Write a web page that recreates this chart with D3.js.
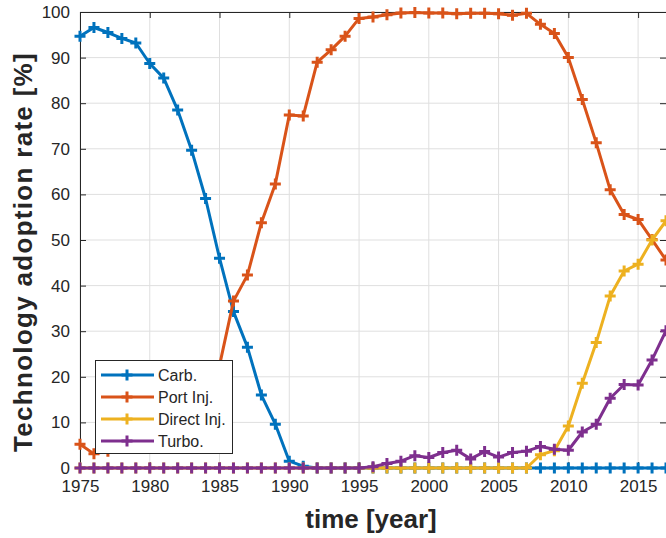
<!DOCTYPE html>
<html>
<head>
<meta charset="utf-8">
<script src="https://cdn.jsdelivr.net/npm/d3@7"></script>
<style>
  body { margin: 0; background: #fff; }
  svg { display: block; font-family: "Liberation Sans", Arial, Helvetica, sans-serif; }
</style>
</head>
<body>
<svg width="666" height="538"></svg>
<script>
const years = [1975, 1976, 1977, 1978, 1979, 1980, 1981, 1982, 1983, 1984,
    1985, 1986, 1987, 1988, 1989, 1990, 1991, 1992, 1993, 1994,
    1995, 1996, 1997, 1998, 1999, 2000, 2001, 2002, 2003, 2004,
    2005, 2006, 2007, 2008, 2009, 2010, 2011, 2012, 2013, 2014,
    2015, 2016, 2017];

const carb = [94.7, 96.6, 95.5, 94.2, 93.2, 88.7, 85.5, 78.5, 69.7, 59.1,
    46.0, 34.3, 26.5, 16.0, 9.6, 1.5, 0.4, 0, 0, 0,
    0, 0, 0, 0, 0, 0, 0, 0, 0, 0,
    0, 0, 0, 0, 0, 0, 0, 0, 0, 0,
    0, 0, 0];

const portInj = [5.2, 3.1, 3.7, 4.5, 5.5, 8.0, 10.5, 14.0, 17.5, 20.5,
    22.5, 36.6, 42.3, 53.8, 62.3, 77.4, 77.2, 89.0, 91.7, 94.7,
    98.6, 98.9, 99.4, 99.8, 99.9, 99.8, 99.8, 99.6, 99.7, 99.7,
    99.6, 99.3, 99.7, 97.3, 95.3, 90.0, 80.8, 71.3, 61.0, 55.6,
    54.5, 50.1, 45.6];

const directInj = [0, 0, 0, 0, 0, 0, 0, 0, 0, 0,
    0, 0, 0, 0, 0, 0, 0, 0, 0, 0,
    0, 0, 0, 0, 0, 0, 0, 0, 0, 0,
    0, 0, 0, 2.9, 3.8, 9.2, 18.6, 27.5, 37.7, 43.2,
    44.7, 50.0, 54.2];

const turbo = [0, 0, 0, 0, 0, 0, 0, 0, 0, 0,
    0, 0, 0, 0, 0, 0, 0, 0, 0, 0,
    0, 0.3, 1.0, 1.5, 2.7, 2.3, 3.4, 3.9, 2.0, 3.6,
    2.4, 3.4, 3.7, 4.7, 4.1, 3.9, 7.9, 9.6, 15.3, 18.3,
    18.2, 23.7, 30.1];

const seriesNames = ['Carb.', 'Port Inj.', 'Direct Inj.', 'Turbo.'];
const seriesColors = ['#0072BD', '#D95319', '#EDB120', '#7E2F8E'];
const xTicks = [1975, 1980, 1985, 1990, 1995, 2000, 2005, 2010, 2015];
const yTicks = [0, 10, 20, 30, 40, 50, 60, 70, 80, 90, 100];

const series = [carb, portInj, directInj, turbo].map((vals, i) => ({
    name: seriesNames[i],
    color: seriesColors[i],
    values: years.map((yr, j) => ({ year: yr, v: vals[j] }))
}));

const margens = { left: 80, right: 0, top: 12, bottom: 70 };
const svg = d3.select('svg');
const width = 666 - margens.left - margens.right;
const height = 538 - margens.top - margens.bottom;
const ink = '#262626';

const x = d3.scaleLinear().domain([1975, 2017]).range([0, width]);
const y = d3.scaleLinear().domain([0, 100]).range([height, 0]);

const g = svg.append('g').attr('transform', `translate(${margens.left},${margens.top})`);

// grade
g.append('g').selectAll('line').data(xTicks).join('line')
    .attr('x1', d => x(d)).attr('x2', d => x(d))
    .attr('y1', 0).attr('y2', height)
    .attr('stroke', '#dfdfdf').attr('stroke-width', 1);
g.append('g').selectAll('line').data(yTicks).join('line')
    .attr('x1', 0).attr('x2', width)
    .attr('y1', d => y(d)).attr('y2', d => y(d))
    .attr('stroke', '#dfdfdf').attr('stroke-width', 1);

// eixos (caixa com ticks para dentro)
const styleAxis = sel => {
    sel.select('.domain').attr('stroke', ink);
    sel.selectAll('.tick line').attr('stroke', ink);
    sel.selectAll('.tick text').attr('fill', ink).attr('font-size', 17);
};

g.append('g').attr('transform', `translate(0,${height})`)
    .call(d3.axisBottom(x).tickValues(xTicks).tickFormat(d3.format('d')).tickSizeInner(-6).tickSizeOuter(0).tickPadding(12))
    .call(styleAxis);
g.append('g')
    .call(d3.axisTop(x).tickValues(xTicks).tickFormat('').tickSizeInner(-6).tickSizeOuter(0))
    .call(styleAxis);
g.append('g')
    .call(d3.axisLeft(y).tickValues(yTicks).tickSizeInner(-6).tickSizeOuter(0).tickPadding(10))
    .call(styleAxis);
g.append('g').attr('transform', `translate(${width},0)`)
    .call(d3.axisRight(y).tickValues(yTicks).tickFormat('').tickSizeInner(-6).tickSizeOuter(0))
    .call(styleAxis);

// linhas + marcadores
const line = d3.line().x(d => x(d.year)).y(d => y(d.v));
const plus = 'M-5.5,0H5.5M0,-5.5V5.5';

series.forEach(s => {
    const sg = g.append('g');
    sg.append('path').datum(s.values)
        .attr('d', line)
        .attr('fill', 'none')
        .attr('stroke', s.color)
        .attr('stroke-width', 3)
        .attr('stroke-linejoin', 'round');
    sg.selectAll('path.mk').data(s.values).join('path')
        .attr('class', 'mk')
        .attr('d', plus)
        .attr('transform', d => `translate(${x(d.year)},${y(d.v)})`)
        .attr('stroke', s.color)
        .attr('stroke-width', 3)
        .attr('fill', 'none');
});

// rótulos
svg.append('text')
    .attr('x', 371).attr('y', 528)
    .attr('text-anchor', 'middle')
    .attr('font-size', 26).attr('font-weight', 'bold').attr('fill', ink)
    .text('time [year]');

svg.append('text')
    .attr('transform', `translate(32,252) rotate(-90)`)
    .attr('text-anchor', 'middle')
    .attr('font-size', 26).attr('font-weight', 'bold').attr('fill', ink)
    .attr('letter-spacing', 1.3)
    .text('Technology adoption rate [%]');

// legenda
const leg = svg.append('g').attr('transform', 'translate(95,360)');
leg.append('rect')
    .attr('x', 0.5).attr('y', 0.5).attr('width', 137).attr('height', 93)
    .attr('fill', '#fff').attr('stroke', ink).attr('stroke-width', 1);

const rows = leg.selectAll('g.row').data(series).join('g')
    .attr('class', 'row')
    .attr('transform', (d, i) => `translate(0,${15 + i * 22})`);
rows.append('line')
    .attr('x1', 6).attr('x2', 59).attr('y1', 0).attr('y2', 0)
    .attr('stroke', d => d.color).attr('stroke-width', 3);
rows.append('path')
    .attr('d', plus).attr('transform', 'translate(32,0)')
    .attr('stroke', d => d.color).attr('stroke-width', 3).attr('fill', 'none');
rows.append('text')
    .attr('x', 63).attr('y', 0).attr('dy', '0.36em')
    .attr('font-size', 16).attr('fill', ink)
    .text(d => d.name);
</script>
</body>
</html>
